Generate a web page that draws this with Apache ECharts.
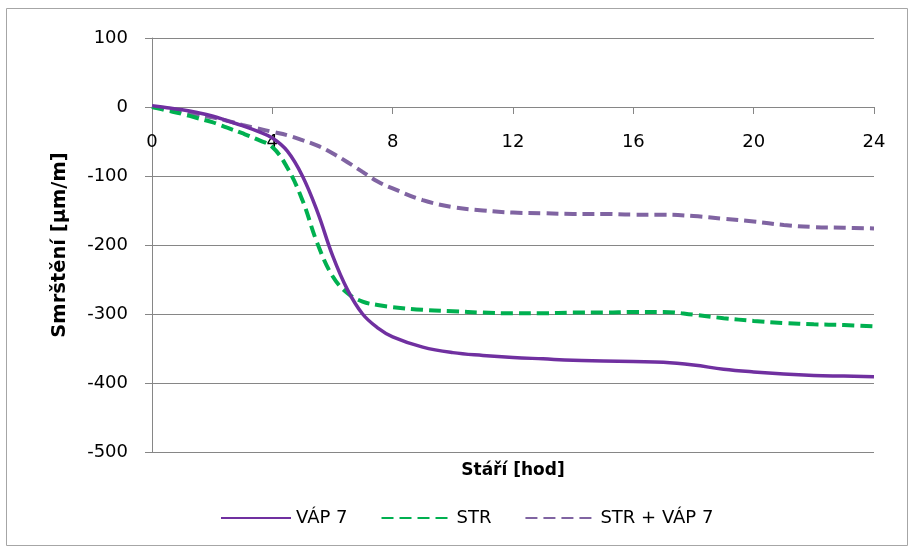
<!DOCTYPE html>
<html><head><meta charset="utf-8">
<script src="https://cdn.jsdelivr.net/npm/echarts@6/dist/echarts.min.js"></script>
<style>html,body{margin:0;padding:0;background:#fff}#c{width:910px;height:548px}</style>
</head><body><div id="c"></div>
<script>
const hours = [0,0.5,1,1.5,2,2.5,3,3.5,4,4.5,5,5.5,6,6.5,7,7.5,8,9,10,11,12,13,14,15,16,17,18,19,20,21,22,23,24];
const vap7 = [2,-1,-4,-8,-13,-20,-27,-35,-45,-64,-100,-152,-215,-265,-300,-320,-333,-348,-356,-360,-363,-365,-367,-368,-369,-370,-374,-380,-384,-387,-389,-390,-391];
const str = [0,-5,-10,-16,-22,-30,-38,-47,-58,-88,-135,-198,-245,-270,-282,-287,-290,-294,-296,-298,-299,-299,-298,-298,-297,-297,-301,-306,-310,-313,-315,-316,-318];
const strVap7 = [0,-3,-7,-11,-15,-20,-26,-31,-36,-41,-48,-56,-67,-80,-94,-108,-118,-135,-145,-150,-153,-154,-155,-155,-156,-156,-158,-162,-166,-171,-174,-175,-176];
const seriesNames = ['VÁP 7','STR','STR + VÁP 7'];
const xTicks = [0,4,8,12,16,20,24];
const yTicks = [-500,-400,-300,-200,-100,0,100];
const xTitle = 'Stáří [hod]';
const yTitle = 'Smrštění [µm/m]';

const FONT = 'DejaVu Sans';
const AX = '#868686';
const pairs = arr => hours.map((h,i)=>[h,arr[i]]);
const chart = echarts.init(document.getElementById('c'), null, {renderer:'canvas'});
chart.setOption({
  animation:false,
  textStyle:{fontFamily:FONT},
  graphic:[{type:'rect',shape:{x:6.5,y:8.5,width:901,height:537},style:{fill:'none',stroke:'#a6a6a6',lineWidth:1},silent:true,z:-1}],
  grid:[
    {left:152,right:36,top:38,bottom:96},
    {left:152,right:36,top:38,height:69}
  ],
  xAxis:[
    {gridIndex:0,type:'value',min:xTicks[0],max:xTicks[xTicks.length-1],interval:4,position:'bottom',
      axisLine:{show:false,onZero:false},axisTick:{show:false},axisLabel:{show:false},splitLine:{show:false},
      name:xTitle,nameLocation:'middle',nameGap:10,nameMoveOverlap:false,
      nameTextStyle:{fontWeight:'bold',fontSize:17,color:'#000',fontFamily:FONT}
    },
    {gridIndex:1,type:'value',min:xTicks[0],max:xTicks[xTicks.length-1],interval:4,position:'bottom',
      axisLine:{show:true,onZero:false,lineStyle:{color:AX,width:1}},
      axisTick:{show:true,length:7,lineStyle:{color:AX}},
      axisLabel:{color:'#000',fontSize:18,margin:26,fontFamily:FONT},
      splitLine:{show:false}
    }
  ],
  yAxis:[
    {gridIndex:0,type:'value',min:yTicks[0],max:yTicks[yTicks.length-1],interval:100,
      axisLine:{show:true,onZero:false,lineStyle:{color:AX,width:1}},
      axisTick:{show:true,length:7,lineStyle:{color:AX}},
      axisLabel:{color:'#000',fontSize:18,margin:24,fontFamily:FONT},
      splitLine:{show:true,lineStyle:{color:AX,width:1}},
      name:yTitle,nameLocation:'middle',nameGap:82,nameMoveOverlap:false,
      nameTextStyle:{fontWeight:'bold',fontSize:19.5,color:'#000',fontFamily:FONT}
    },
    {gridIndex:1,type:'value',min:0,max:1,show:false}
  ],
  legend:{top:504,left:215,itemWidth:70,itemHeight:4,itemGap:33,
    itemStyle:{opacity:0},
    textStyle:{fontSize:18,color:'#000',fontFamily:FONT},
    data:seriesNames},
  series:[
    {name:seriesNames[0],type:'line',xAxisIndex:0,yAxisIndex:0,data:pairs(vap7),smooth:0.4,symbol:'none',z:3,
      lineStyle:{color:'#7030A0',width:3.5},itemStyle:{color:'#7030A0'}},
    {name:seriesNames[1],type:'line',xAxisIndex:0,yAxisIndex:0,data:pairs(str),smooth:0.4,symbol:'none',z:2,
      lineStyle:{color:'#00B050',width:4,type:[12,6]},itemStyle:{color:'#00B050'}},
    {name:seriesNames[2],type:'line',xAxisIndex:0,yAxisIndex:0,data:pairs(strVap7),smooth:0.4,symbol:'none',z:1,
      lineStyle:{color:'#8064A2',width:4,type:[12,6]},itemStyle:{color:'#8064A2'}}
  ]
});
</script></body></html>
